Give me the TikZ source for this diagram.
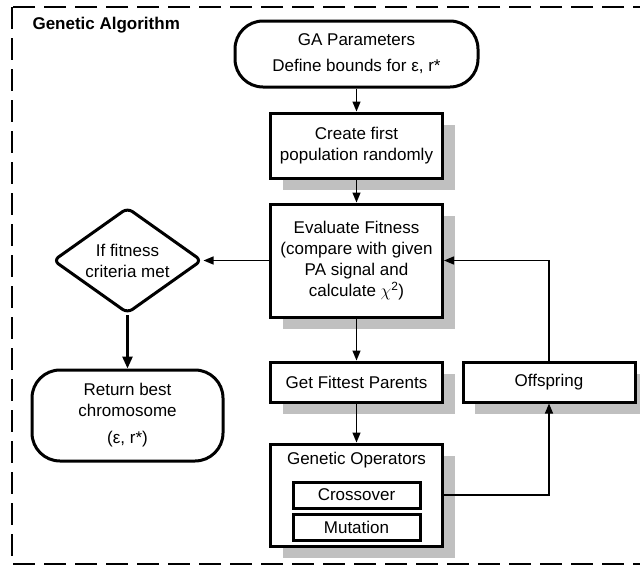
\documentclass[tikz,border=0pt]{standalone}
\usepackage{fontspec}
\setmainfont{Liberation Sans}
\usetikzlibrary{shapes.geometric,arrows.meta,shadows}
\definecolor{shadowgray}{RGB}{192,192,192}
\begin{document}
\begin{tikzpicture}[x=1pt,y=-1pt,
  font=\fontsize{17}{21}\selectfont,
  box/.style={draw,fill=white,line width=3pt,minimum width=172pt,inner sep=0pt,align=center,
    drop shadow={shadow xshift=12pt,shadow yshift=-12pt,fill=shadowgray,opacity=1}},
  term/.style={draw,fill=white,line width=3pt,rounded corners=28pt,align=center,inner sep=0pt},
  innerbox/.style={draw,fill=white,line width=3pt,minimum width=127pt,minimum height=26pt,inner sep=0pt},
  conn/.style={line width=1.3pt,-{Triangle[length=10pt,width=8pt]}},
  thickconn/.style={line width=2.6pt,-{Triangle[length=12pt,width=10pt]}}]
\useasboundingbox (0,0) rectangle (640,568);
\draw[line width=2.7pt, dash pattern=on 22pt off 9pt] (12,7) rectangle (660,564);
\node[anchor=west,font=\fontsize{17}{21}\selectfont\bfseries] (title) at (29,25) {Genetic Algorithm};

\node[term,minimum width=243pt,minimum height=66pt] (ga) at (356.5,54) {GA Parameters\\[5pt]Define bounds for ε, r*};
\node[box,minimum height=65pt] (create) at (356.5,145.5) {Create first\\population randomly};
\node[box,minimum height=113pt] (eval) at (356.5,260.5) {Evaluate Fitness\\(compare with given\\PA signal and\\calculate $\chi$\textsuperscript{2})};
\node[diamond,draw,fill=white,line width=3pt,rounded corners=6pt,aspect=1.4,inner sep=0pt,
  minimum width=149pt,minimum height=106pt,align=center] (dec) at (127.5,260.5) {If fitness\\criteria met};
\node[term,minimum width=191pt,minimum height=91pt] (ret) at (127.5,415.5) {Return best\\chromosome\\[6pt](ε, r*)};
\node[box,minimum height=40pt] (fit) at (356.5,382) {Get Fittest Parents};
\node[box,minimum height=40pt] (off) at (549,382) {Offspring};
\node[box,minimum height=102pt] (gops) at (356.5,495) {};
\node (gt) at (356.5,460) {Genetic Operators};
\node[innerbox] (cross) at (356.5,495) {Crossover};
\node[innerbox] (mut) at (356.5,527) {Mutation};

\draw[conn] (ga) -- (create);
\draw[conn] (create) -- (eval);
\draw[conn] (eval.west) -- (dec.east);
\draw[thickconn] (dec) -- (ret);
\draw[conn] (eval) -- (fit);
\draw[conn] (fit) -- (gops);
\draw[conn] (gops.east) -| (off.south);
\draw[conn] (off.north) |- (eval.east);
\end{tikzpicture}
\end{document}
